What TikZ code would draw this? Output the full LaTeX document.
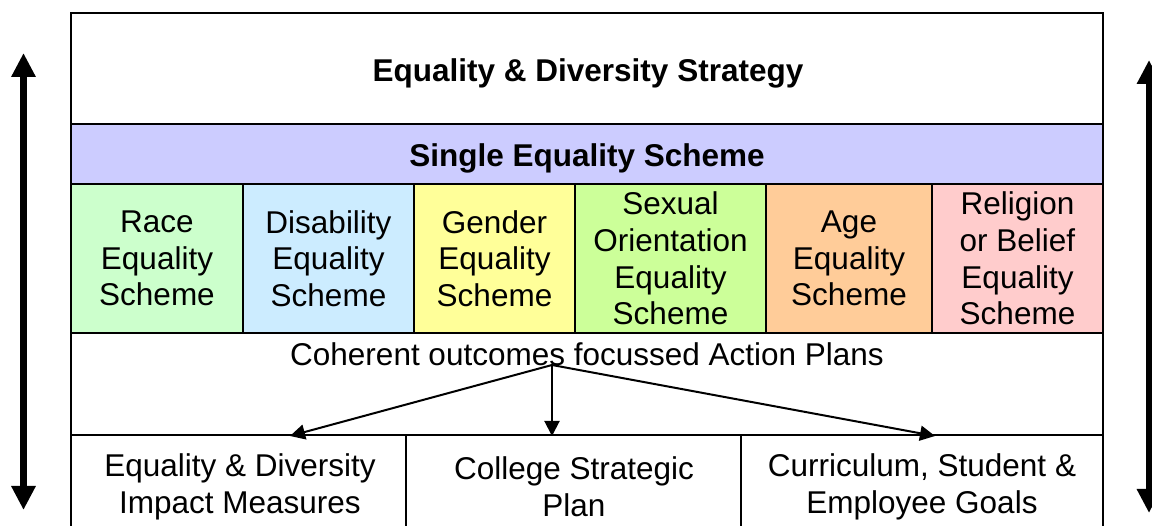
\documentclass[tikz,border=0pt]{standalone}
\usepackage{fontspec}
\setmainfont{Liberation Sans}
\usetikzlibrary{arrows.meta}

\definecolor{bandpurple}{HTML}{CCCCFF}
\definecolor{racegreen}{HTML}{CCFFCC}
\definecolor{disblue}{HTML}{CCECFF}
\definecolor{genyellow}{HTML}{FFFF99}
\definecolor{sexgreen}{HTML}{CCFF99}
\definecolor{ageorange}{HTML}{FFCC99}
\definecolor{relpink}{HTML}{FFCCCC}

\begin{document}
\begin{tikzpicture}[x=1pt,y=-1pt,
  cellbox/.style={draw=black,line width=2.8pt,inner sep=0pt,outer sep=0pt,
    align=center,font=\fontsize{31.5}{36.6}\selectfont},
  plaintext/.style={inner sep=0pt,align=center,font=\fontsize{31.5}{36.6}\selectfont},
  boldtext/.style={plaintext,font=\fontsize{31.5}{36.6}\selectfont\bfseries},
  feed/.style={line width=2pt,-{Triangle[length=15pt,width=15pt]}},
  span/.style={line width=7pt,{Triangle[length=24pt,width=23pt]}-{Triangle[length=24pt,width=23pt]}}
]
\useasboundingbox (0,0) rectangle (1152,526);
\clip (0,0) rectangle (1152,526);

% strategy header
\node[cellbox,fill=white,minimum width=1032pt,minimum height=111pt] (strategy) at (587,68.5) {};
\node[boldtext] (strategytxt) at (588,73) {Equality \& Diversity Strategy};

% single equality scheme band
\node[cellbox,fill=bandpurple,minimum width=1032pt,minimum height=60pt] (single) at (587,154) {};
\node[boldtext] (singletxt) at (587,158) {Single Equality Scheme};

% individual schemes
\node[cellbox,fill=racegreen,minimum width=172pt,minimum height=149pt,text depth=0pt] (race) at (157,258.5) {Race\\Equality\\Scheme};
\node[cellbox,fill=disblue,minimum width=171pt,minimum height=149pt] (disability) at (328.5,258.5) {Disability\\Equality\\Scheme};
\node[cellbox,fill=genyellow,minimum width=161pt,minimum height=149pt] (gender) at (494.5,258.5) {Gender\\Equality\\Scheme};
\node[cellbox,fill=sexgreen,minimum width=191pt,minimum height=149pt] (sexual) at (670.5,258.5) {Sexual\\Orientation\\Equality\\Scheme};
\node[cellbox,fill=ageorange,minimum width=166pt,minimum height=149pt] (age) at (849,258.5) {Age\\Equality\\Scheme};
\node[cellbox,fill=relpink,minimum width=171pt,minimum height=149pt] (religion) at (1017.5,258.5) {Religion\\or Belief\\Equality\\Scheme};

% action plans row
\node[cellbox,fill=white,minimum width=1032pt,minimum height=102pt] (planrow) at (587,384) {};
\node[plaintext] (plans) at (587,354) {Coherent outcomes focussed Action Plans};

% outcome areas
\node[cellbox,fill=white,minimum width=335pt,minimum height=120pt] (impact) at (238.5,495) {};
\node[cellbox,fill=white,minimum width=335pt,minimum height=120pt] (college) at (573.5,495) {};
\node[cellbox,fill=white,minimum width=362pt,minimum height=120pt] (goals) at (922,495) {};
\node[plaintext] (impacttxt) at (240,487) {Equality \& Diversity\\Impact Measures};
\node[plaintext] (collegetxt) at (574,487) {College Strategic\\Plan};
\node[plaintext] (goalstxt) at (922,487) {Curriculum, Student \&\\Employee Goals};

% links from the action plans to the three areas
\coordinate (hub) at (552,365);
\coordinate (impacttop) at (290,436);
\coordinate (collegetop) at (552,436);
\coordinate (goalstop) at (935,436);
\draw[feed] (hub) -- (impacttop);
\draw[feed] (hub) -- (collegetop);
\draw[feed] (hub) -- (goalstop);

% vertical span arrows at both sides
\coordinate (ltop) at (23.5,53);
\coordinate (lbot) at (23.5,510);
\coordinate (rtop) at (1149,60);
\coordinate (rbot) at (1149,513);
\draw[span] (ltop) -- (lbot);
\draw[span] (rtop) -- (rbot);
\end{tikzpicture}
\end{document}
